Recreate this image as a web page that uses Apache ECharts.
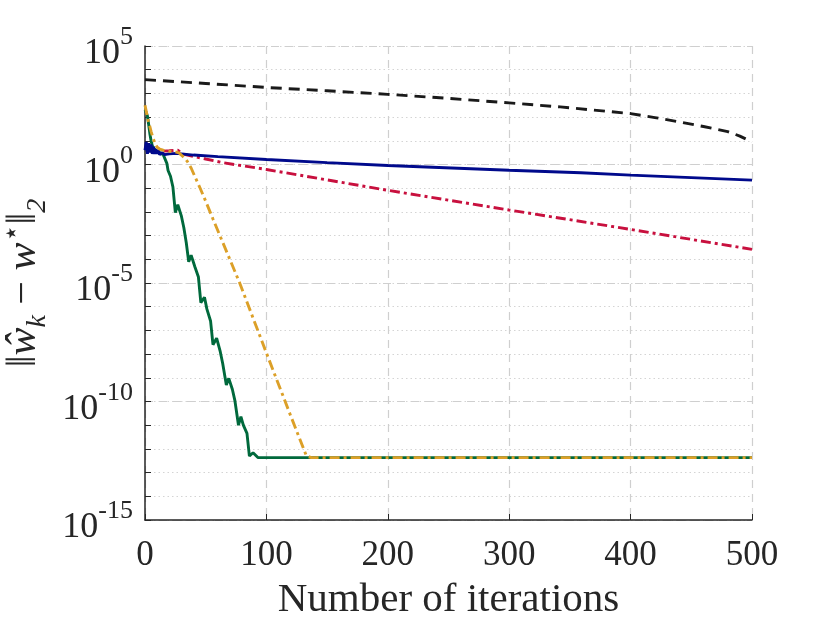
<!DOCTYPE html>
<html>
<head>
    <meta charset="UTF-8">
    <title>Convergence</title>
    <script src="https://cdn.jsdelivr.net/npm/echarts@6/dist/echarts.min.js"></script>
    <style>
        html, body { margin: 0; padding: 0; background: #fff; }
    </style>
</head>
<body>
<div id="chart" style="width:830px; height:623px;"></div>
<script>
    // values: [iteration, error]
    var blackDashed = [[0, 3800], [50, 2630], [100, 1780], [150, 1290], [200, 912], [250, 617], [300, 398],
        [342, 269], [400, 141], [420, 95.5], [440, 63], [460, 40], [480, 24.5], [490, 15.8], [500, 8.9]];

    var greenSolid = [[0, 200], [1, 158], [2, 112], [3, 50], [4, 20], [5, 10], [6, 6.3], [7, 5.0], [8, 4.2],
        [10, 3.5], [12, 3.2], [15, 2.6], [16, 2.2], [18, 1.12], [19, 0.56], [21, 0.32], [23, 0.112],
        [25, 9.3e-3], [27, 0.02], [28, 0.019], [30, 6.6e-3], [32, 2.14e-3], [34, 5.0e-4], [36, 7.9e-5],
        [38, 1.5e-4], [41, 5.0e-5], [44, 1.78e-5], [46, 1.48e-6], [49, 2.5e-6], [51, 7.9e-7], [54, 2.5e-7],
        [56, 2.5e-8], [59, 4.7e-8], [62, 1.26e-8], [64, 4.0e-9], [67, 5.0e-10], [69, 9.5e-10], [72, 3.2e-10],
        [74, 1.12e-10], [77, 1.0e-11], [79, 2.3e-11], [81, 1.0e-11], [84, 4.5e-12], [86, 5.0e-13],
        [89, 6.9e-13], [93, 4.3e-13], [500, 4.3e-13]];

    var redDashDot = [[0, 6.3], [3, 4.0], [6, 3.55], [10, 3.55], [20, 3.8], [27, 4.0], [31, 2.8], [40, 2.19],
        [50, 1.7], [65, 1.17], [100, 0.617], [200, 0.0813], [300, 0.012], [400, 1.82e-3], [500, 2.63e-4]];

    var blueSolid = [[0, 4.0], [1, 8.9], [2, 2.8], [3, 7.9], [4, 3.2], [5, 7.1], [6, 2.8], [7, 5.6], [8, 2.8],
        [9, 4.5], [10, 2.8], [11, 4.0], [12, 2.6], [14, 3.2], [16, 2.6], [20, 2.8], [26, 2.95], [40, 2.5],
        [60, 2.14], [100, 1.62], [150, 1.2], [200, 0.91], [300, 0.575], [359, 0.447], [400, 0.355], [500, 0.219]];

    var orangeDashDot = [[0, 316], [1, 178], [2, 100], [3, 60], [4, 40], [5, 25], [6, 16.6], [7, 11.5], [8, 8.5],
        [9, 6.6], [10, 5.4], [12, 4.5], [15, 4.0], [20, 3.6], [25, 3.4], [28, 3.1], [31, 2.24], [33, 1.82],
        [35, 1.32], [38, 0.71], [41, 0.316], [45, 0.112], [50, 0.0282], [56, 5.0e-3], [78, 1e-5],
        [100, 1.12e-8], [120, 2.5e-11], [133, 5.0e-13], [137, 4.3e-13], [500, 4.3e-13]];

    var xTicks = [0, 100, 200, 300, 400, 500];
    var yMin = 1e-15, yMax = 1e5;

    var serif = "'Liberation Serif', 'Times New Roman', serif";
    var ink = '#262626';

    var chart = echarts.init(document.getElementById('chart'), null, {renderer: 'canvas'});

    function makeLine(data, color, dash) {
        return {
            type: 'line',
            data: data,
            yAxisIndex: 0,
            showSymbol: false,
            symbol: 'none',
            animation: false,
            lineStyle: {color: color, width: 2.9, type: dash}
        };
    }

    var option = {
        animation: false,
        grid: {left: 145, right: 78, top: 46, bottom: 103, outerBoundsMode: 'none', containLabel: false},
        xAxis: {
            type: 'value',
            min: xTicks[0],
            max: xTicks[xTicks.length - 1],
            interval: 100,
            name: 'Number of iterations',
            nameLocation: 'middle',
            nameGap: 60,
            nameTextStyle: {fontFamily: serif, fontSize: 41, color: ink},
            axisLine: {lineStyle: {color: ink, width: 1.5}},
            axisTick: {inside: true, length: 6, lineStyle: {color: ink}},
            axisLabel: {fontFamily: serif, fontSize: 35, color: ink, margin: 18},
            splitLine: {lineStyle: {color: '#cfcfcf', width: 1.2, type: [8, 6]}}
        },
        yAxis: [
            {
                // every decade: dotted minor grid + ticks
                type: 'log',
                logBase: 10,
                min: yMin,
                max: yMax,
                interval: 1,
                position: 'left',
                axisLine: {show: true, lineStyle: {color: ink, width: 1.5}},
                axisTick: {show: true, inside: true, length: 6, lineStyle: {color: ink}},
                axisLabel: {show: false},
                splitLine: {lineStyle: {color: '#d4d4d4', width: 1, type: [1.5, 3]}}
            },
            {
                // every 5 decades: dashed grid + labels
                type: 'log',
                logBase: 10,
                min: yMin,
                max: yMax,
                interval: 5,
                position: 'left',
                axisLine: {show: false},
                axisTick: {show: false},
                name: '{n|‖}{i|ŵ}{sub|k}{n| − }{i|w}{sup|⋆}{n|‖}{sub|2}',
                nameLocation: 'middle',
                nameRotate: 90,
                nameGap: 98,
                nameTextStyle: {
                    color: ink,
                    rich: {
                        n: {fontFamily: serif, fontSize: 42, lineHeight: 42, verticalAlign: 'middle', color: ink},
                        i: {fontFamily: serif, fontStyle: 'italic', fontSize: 42, lineHeight: 42, verticalAlign: 'middle', color: ink},
                        sup: {fontFamily: serif, fontSize: 28, lineHeight: 28, padding: [0, 0, 24, 0], verticalAlign: 'middle', color: ink},
                        sub: {fontFamily: serif, fontStyle: 'italic', fontSize: 28, lineHeight: 28, padding: [26, 0, 0, 0], verticalAlign: 'middle', color: ink}
                    }
                },
                axisLabel: {
                    margin: 12,
                    formatter: function (v) {
                        var e = Math.round(Math.log(v) / Math.LN10);
                        return '{b|10}{s|' + e + '}';
                    },
                    rich: {
                        b: {fontFamily: serif, fontSize: 36, lineHeight: 36, padding: [16, 0, 0, 0], verticalAlign: 'middle', color: ink},
                        s: {fontFamily: serif, fontSize: 26, lineHeight: 26, padding: [0, 0, 17, 0], verticalAlign: 'middle', color: ink}
                    }
                },
                splitLine: {lineStyle: {color: '#cfcfcf', width: 1.2, type: [8, 6]}}
            }
        ],
        series: [
            makeLine(blackDashed, '#1a1a1a', [11, 7]),
            makeLine(greenSolid, '#00693c', 'solid'),
            makeLine(redDashDot, '#c8103e', [10, 4, 3, 4]),
            makeLine(blueSolid, '#000a8c', 'solid'),
            makeLine(orangeDashDot, '#dca028', [10, 4, 3, 4])
        ]
    };

    chart.setOption(option);
</script>
</body>
</html>
